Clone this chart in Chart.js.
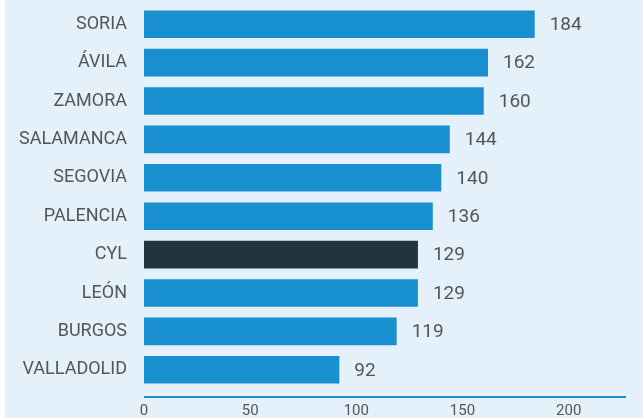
<!DOCTYPE html>
<html>
<head>
<meta charset="utf-8">
<script src="https://cdn.jsdelivr.net/npm/chart.js@4"></script>
<style>
  html, body { margin: 0; padding: 0; background: #ffffff; }
  #wrap { position: absolute; left: 5px; top: 0; width: 638px; height: 418px; background: #E4F1FB; }
</style>
</head>
<body>
<div id="wrap"><canvas id="chart" width="638" height="418"></canvas></div>
<script>
// Datos del gráfico
const provincias = ['SORIA', 'ÁVILA', 'ZAMORA', 'SALAMANCA', 'SEGOVIA', 'PALENCIA', 'CYL', 'LEÓN', 'BURGOS', 'VALLADOLID'];
const valores = [184, 162, 160, 144, 140, 136, 129, 129, 119, 92];
const ticksX = [0, 50, 100, 150, 200];

const AZUL = '#188FCE';
const OSCURO = '#223440';
const GRIS = '#555555';

// Etiquetas de valor al final de cada barra
const valorLabels = {
  id: 'valorLabels',
  afterDatasetsDraw(chart) {
    const ctx = chart.ctx;
    const meta = chart.getDatasetMeta(0);
    ctx.save();
    ctx.font = '19px Roboto';
    ctx.fillStyle = GRIS;
    ctx.textAlign = 'left';
    ctx.textBaseline = 'middle';
    meta.data.forEach((bar, i) => {
      ctx.fillText(String(valores[i]), bar.x + 15, bar.y + 1);
    });
    ctx.restore();
  }
};

// Línea del eje X separada del área de barras
const lineaEje = {
  id: 'lineaEje',
  afterDraw(chart) {
    const { ctx, chartArea } = chart;
    ctx.save();
    ctx.strokeStyle = AZUL;
    ctx.lineWidth = 2;
    ctx.beginPath();
    ctx.moveTo(chartArea.left, chartArea.bottom + 8);
    ctx.lineTo(chartArea.right, chartArea.bottom + 8);
    ctx.stroke();
    ctx.restore();
  }
};

new Chart(document.getElementById('chart'), {
  type: 'bar',
  data: {
    labels: provincias,
    datasets: [{
      data: valores,
      backgroundColor: provincias.map(p => p === 'CYL' ? OSCURO : AZUL),
      barPercentage: 0.72,
      categoryPercentage: 1
    }]
  },
  options: {
    indexAxis: 'y',
    responsive: false,
    animation: false,
    layout: { padding: { top: 5, right: 17, bottom: 0, left: 0 } },
    plugins: { legend: { display: false }, tooltip: { enabled: false } },
    scales: {
      x: {
        min: 0,
        max: 227,
        grid: { display: false },
        border: { display: false },
        afterBuildTicks: axis => { axis.ticks = ticksX.map(v => ({ value: v })); },
        afterFit: axis => { axis.height = 29; axis.paddingLeft = 0; axis.paddingRight = 0; },
        ticks: { color: GRIS, font: { family: 'Roboto', size: 15 }, padding: 5, maxRotation: 0 }
      },
      y: {
        grid: { display: false },
        border: { display: false },
        afterFit: axis => { axis.width = 139; axis.paddingTop = 0; axis.paddingBottom = 0; },
        ticks: { color: GRIS, font: { family: 'Roboto', size: 18 }, padding: 9 }
      }
    }
  },
  plugins: [valorLabels, lineaEje]
});
</script>
</body>
</html>
